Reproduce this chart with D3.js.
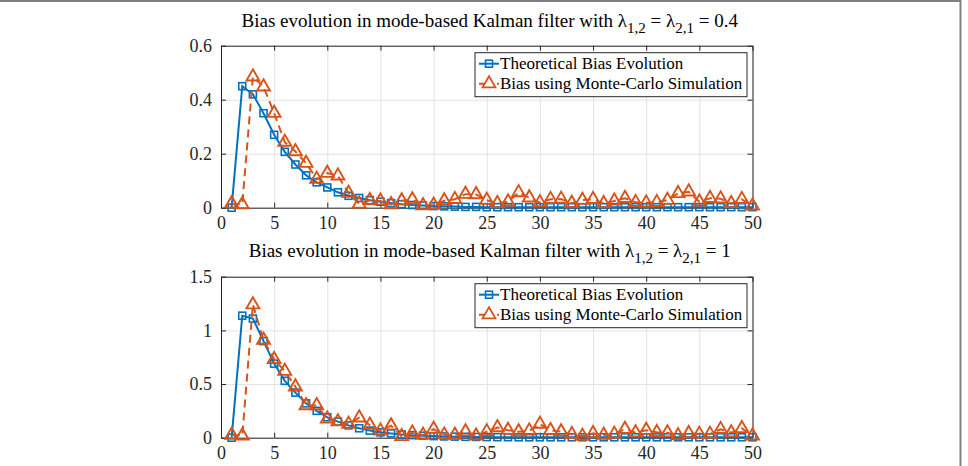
<!DOCTYPE html>
<html>
<head>
<meta charset="utf-8">
<script src="https://cdn.jsdelivr.net/npm/d3@7"></script>
<style>
  body { margin: 0; background: #fff; }
  svg { display: block; font-family: "Liberation Serif", "Times New Roman", serif; }
  .tick-label { font-size: 18px; fill: #262626; }
  .title { font-size: 19px; fill: #000; }
  .legend-text { font-size: 17px; fill: #000; }
</style>
</head>
<body>
<svg width="968" height="466"></svg>
<script>
// time steps
let steps = d3.range(1, 51)

// lambda = 0.4
let theory04 = [0, 0.45, 0.42, 0.35, 0.27, 0.207, 0.16, 0.12, 0.094, 0.075,
    0.057, 0.044, 0.036, 0.028, 0.022, 0.017, 0.013, 0.010, 0.008, 0.006,
    0.005, 0.004, 0.003, 0.003, 0.002, 0.002, 0.002, 0.002, 0.002, 0.002,
    0.002, 0.002, 0.002, 0.002, 0.002, 0.002, 0.002, 0.002, 0.002, 0.002,
    0.002, 0.002, 0.002, 0.002, 0.002, 0.002, 0.002, 0.002, 0.002, 0.002]
let monteCarlo04 = [0.015, 0.012, 0.485, 0.448, 0.35, 0.243, 0.208, 0.165, 0.106, 0.128,
    0.118, 0.054, 0.014, 0.027, 0.025, 0.012, 0.026, 0.03, 0.008, 0.01,
    0.026, 0.031, 0.05, 0.049, 0.028, 0.016, 0.022, 0.056, 0.037, 0.019,
    0.031, 0.032, 0.017, 0.028, 0.031, 0.016, 0.025, 0.035, 0.02, 0.018,
    0.02, 0.028, 0.053, 0.059, 0.022, 0.035, 0.033, 0.016, 0.031, 0.007]

// lambda = 1
let theory1 = [0, 1.137, 1.11, 0.90, 0.69, 0.53, 0.42, 0.32, 0.25, 0.19,
    0.15, 0.115, 0.088, 0.066, 0.05, 0.04, 0.03, 0.024, 0.019, 0.015,
    0.012, 0.010, 0.008, 0.007, 0.006, 0.005, 0.005, 0.004, 0.004, 0.004,
    0.004, 0.004, 0.004, 0.004, 0.004, 0.004, 0.004, 0.004, 0.004, 0.004,
    0.004, 0.004, 0.004, 0.004, 0.004, 0.004, 0.004, 0.004, 0.004, 0.004]
let monteCarlo1 = [0.025, 0.018, 1.24, 0.91, 0.73, 0.62, 0.475, 0.30, 0.30, 0.175,
    0.15, 0.127, 0.186, 0.118, 0.064, 0.112, 0.012, 0.045, 0.025, 0.08,
    0.027, 0.025, 0.056, 0.017, 0.057, 0.095, 0.07, 0.056, 0.064, 0.127,
    0.068, 0.056, 0.032, 0.015, 0.04, 0.025, 0.034, 0.08, 0.047, 0.07,
    0.05, 0.047, 0.02, 0.04, 0.034, 0.034, 0.078, 0.047, 0.087, 0.018]

let xTicks = [0, 5, 10, 15, 20, 25, 30, 35, 40, 45, 50]
let yTicks04 = [0, 0.2, 0.4, 0.6]
let yTicks1 = [0, 0.5, 1, 1.5]
let legendLabels = ['Theoretical Bias Evolution', 'Bias using Monte-Carlo Simulation']

let blue = '#0072BD'
let orange = '#D95319'
let axisColor = '#262626'

let svg = d3.select('svg')

// figure frame edges
svg.append('line').attr('x1', 0).attr('x2', 961).attr('y1', 1).attr('y2', 1)
    .attr('stroke', '#808080').attr('stroke-width', 2)
svg.append('line').attr('x1', 960.5).attr('x2', 960.5).attr('y1', 0).attr('y2', 466)
    .attr('stroke', '#808080').attr('stroke-width', 2)

drawPanel({
    top: 45.7, bottom: 207.7, yMax: 0.6, yTicks: yTicks04,
    theory: theory04, mc: monteCarlo04, lambda: '0.4', titleY: 27
})
drawPanel({
    top: 276.7, bottom: 437.7, yMax: 1.5, yTicks: yTicks1,
    theory: theory1, mc: monteCarlo1, lambda: '1', titleY: 257
})

function drawPanel(p) {
    let left = 221
    let right = 752.5

    let x = d3.scaleLinear().domain([0, 50]).range([left, right])
    let y = d3.scaleLinear().domain([0, p.yMax]).range([p.bottom, p.top])

    let g = svg.append('g')

    // grid
    g.append('g')
        .attr('transform', `translate(0,${p.bottom})`)
        .call(d3.axisBottom(x).tickValues(xTicks).tickFormat('').tickSize(-(p.bottom - p.top)))
        .call(s => s.select('.domain').remove())
        .selectAll('line').attr('stroke', '#e3e3e3')
    g.append('g')
        .attr('transform', `translate(${left},0)`)
        .call(d3.axisLeft(y).tickValues(p.yTicks).tickFormat('').tickSize(-(right - left)))
        .call(s => s.select('.domain').remove())
        .selectAll('line').attr('stroke', '#e3e3e3')

    // axes (ticks inside, all four sides)
    let fmt = d => String(d)
    let axes = [
        { ax: d3.axisBottom(x).tickValues(xTicks), t: `translate(0,${p.bottom})`, lab: true },
        { ax: d3.axisTop(x).tickValues(xTicks), t: `translate(0,${p.top})`, lab: false },
        { ax: d3.axisLeft(y).tickValues(p.yTicks), t: `translate(${left},0)`, lab: true },
        { ax: d3.axisRight(y).tickValues(p.yTicks), t: `translate(${right},0)`, lab: false }
    ]
    axes.forEach(a => {
        let ag = g.append('g').attr('transform', a.t)
            .call(a.ax.tickFormat(fmt).tickSizeInner(-5).tickSizeOuter(0).tickPadding(9))
            .attr('font-family', null).attr('font-size', null)
        ag.select('.domain').attr('stroke', axisColor).attr('stroke-width', 1)
        ag.selectAll('.tick line').attr('stroke', axisColor)
        ag.selectAll('.tick text').attr('class', 'tick-label').attr('fill', null)
        if (!a.lab) ag.selectAll('.tick text').remove()
    })

    // series
    let line = d3.line().x((d, i) => x(steps[i])).y(d => y(d))

    g.append('path').datum(p.theory)
        .attr('d', line).attr('fill', 'none')
        .attr('stroke', blue).attr('stroke-width', 2)
    g.selectAll('.sq').data(p.theory).enter().append('rect')
        .attr('x', (d, i) => x(steps[i]) - 3.5)
        .attr('y', d => y(d) - 3.5)
        .attr('width', 7).attr('height', 7)
        .attr('fill', 'none').attr('stroke', blue).attr('stroke-width', 1.6)

    g.append('path').datum(p.mc)
        .attr('d', line).attr('fill', 'none')
        .attr('stroke', orange).attr('stroke-width', 2)
        .attr('stroke-dasharray', '8,5')
    let tri = d3.symbol().type(d3.symbolTriangle).size(72)
    g.selectAll('.tri').data(p.mc).enter().append('path')
        .attr('d', tri)
        .attr('transform', (d, i) => `translate(${x(steps[i])},${y(d)})`)
        .attr('fill', 'none').attr('stroke', orange).attr('stroke-width', 1.9)

    // title
    let title = g.append('text').attr('class', 'title')
        .attr('x', (left + right) / 2 + 3).attr('y', p.titleY)
        .attr('text-anchor', 'middle')
    title.append('tspan').text('Bias evolution in mode-based Kalman filter with \u03BB')
    title.append('tspan').attr('dy', 6).style('font-size', '15px').text('1,2')
    title.append('tspan').attr('dy', -6).text(' = \u03BB')
    title.append('tspan').attr('dy', 6).style('font-size', '15px').text('2,1')
    title.append('tspan').attr('dy', -6).text(' = ' + p.lambda)

    // legend
    let lx = 475, ly = p.top + 7
    let leg = g.append('g')
    leg.append('rect').attr('x', lx).attr('y', ly).attr('width', 272).attr('height', 44)
        .attr('fill', '#fff').attr('stroke', axisColor).attr('stroke-width', 1)
    legendLabels.forEach((lab, i) => {
        let cy = ly + 11 + i * 20
        let col = i === 0 ? blue : orange
        leg.append('line').attr('x1', lx + 4).attr('x2', lx + 24).attr('y1', cy).attr('y2', cy)
            .attr('stroke', col).attr('stroke-width', 2)
            .attr('stroke-dasharray', i === 0 ? null : '6,3')
        if (i === 0) {
            leg.append('rect').attr('x', lx + 10.5).attr('y', cy - 3.5).attr('width', 7).attr('height', 7)
                .attr('fill', 'none').attr('stroke', col).attr('stroke-width', 1.6)
        } else {
            leg.append('path').attr('d', tri).attr('transform', `translate(${lx + 14},${cy})`)
                .attr('fill', '#fff').attr('stroke', col).attr('stroke-width', 1.8)
        }
        leg.append('text').attr('class', 'legend-text')
            .attr('x', lx + 25).attr('y', cy + 5).text(lab)
    })
}
</script>
</body>
</html>
